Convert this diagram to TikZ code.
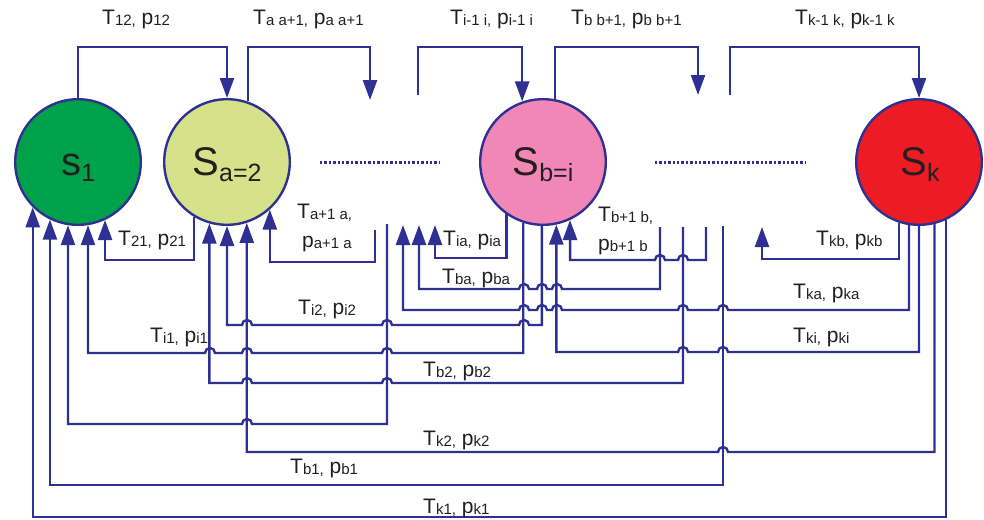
\documentclass[tikz,border=0pt]{standalone}
\usepackage{fontspec}
\setmainfont{Liberation Sans}
\usetikzlibrary{arrows.meta}
\definecolor{lb}{RGB}{46,49,146}
\definecolor{txt}{RGB}{35,31,32}
\definecolor{cgreen}{RGB}{0,161,75}
\definecolor{cyell}{RGB}{214,226,137}
\definecolor{cpink}{RGB}{241,135,183}
\definecolor{cred}{RGB}{237,28,36}
\newcommand\sbx[1]{\raisebox{-1pt}{\fontsize{15}{15}\selectfont #1}}
\newcommand\sbX[1]{\raisebox{-6pt}{\fontsize{25}{25}\selectfont #1}}
\newcommand\hopL[2]{-- ({#1+5},#2) arc[start angle=0,end angle=180,radius=5pt]}
\begin{document}
\begin{tikzpicture}[x=1pt,y=-1pt,
  st/.style={circle,draw=lb,line width=2.4pt,minimum size=125.6pt,inner sep=0pt},
  wire/.style={draw=lb,line width=2.4pt},
  arr/.style={wire,-{Triangle[length=20pt,width=14pt]}},
  lab/.style={anchor=base west,inner sep=0pt,text=txt,font=\fontsize{21}{21}\selectfont},
  big/.style={anchor=base,inner sep=0pt,text=txt,font=\fontsize{40}{40}\selectfont},
  dots/.style={draw=lb,line width=3pt,dash pattern=on 2.4pt off 2pt}]
\useasboundingbox (0,0) rectangle (984,519);
% states
\node[st,fill=cgreen] (s1) at (78,162) {};
\node[st,fill=cyell] (Sa) at (227,162) {};
\node[st,fill=cpink] (Sb) at (543,162) {};
\node[st,fill=cred] (Sk) at (919,162) {};
\node[big] (ls1) at (78,175) {s\sbX{1}};
\node[big] (lSa) at (227,175) {S\sbX{a=2}};
\node[big] (lSb) at (543,175) {S\sbX{b=i}};
\node[big] (lSk) at (920,175) {S\sbX{k}};
% free ends
\coordinate (fa1) at (370,100);
\coordinate (fi1) at (418,95);
\coordinate (fb1) at (698,95);
\coordinate (fk1) at (730,95);
\coordinate (fAa) at (375,230);
\coordinate (fX) at (387,224);
\coordinate (fTka) at (403,225);
\coordinate (fTba) at (419,225);
\coordinate (fTia) at (435,225);
\coordinate (fBa) at (660,227);
\coordinate (fB2) at (683,227);
\coordinate (fBb) at (706,227);
\coordinate (fB1) at (723,226);
\coordinate (fTkb) at (762,227);
% dotted
\coordinate (d1a) at (320,162); \coordinate (d1b) at (440,162);
\coordinate (d2a) at (655,162); \coordinate (d2b) at (805,162);
\draw[dots] (d1a) -- (d1b);
\draw[dots] (d2a) -- (d2b);
% top connectors
\draw[arr] (s1.90) |- (150,47) -| (Sa.90);
\draw[arr] (Sa.71.8) |- (300,47) -| (fa1);
\draw[arr] (fi1) |- (470,47) -| (Sb.109.2);
\draw[arr] (Sb.79.2) |- (620,47) -| (fb1);
\draw[arr] (fk1) |- (820,47) -| (Sk.90);
% bottom connectors
\draw[arr] (Sa.239) |- (150,260) -| (s1.295);
\draw[arr] (fAa) |- (320,262) -| (Sa.312.2);
\draw[arr] (Sb.269.1) |- (529,325) arc[start angle=0,end angle=180,radius=5pt] \hopL{387}{325} \hopL{247}{325} -| (Sa.270);
\draw[arr] (Sb.252.7) |- (392,353) arc[start angle=0,end angle=180,radius=5pt] \hopL{247}{353} \hopL{210}{353} -| (s1.279.9);
\draw[arr] (fB2) |- (392,383) arc[start angle=0,end angle=180,radius=5pt] \hopL{247}{383} -| (Sa.254.6);
\draw[arr] (fX) |- (252,424) arc[start angle=0,end angle=180,radius=5pt] -| (s1.261);
\draw[arr] (Sk.284.5) |- (728,452) arc[start angle=0,end angle=180,radius=5pt] -| (Sa.288.2);
\draw[arr] (fB1) |- (400,485) -| (s1.244.1);
\draw[arr] (Sk.295.9) |- (400,517) -| (s1.225.3);
\draw[arr] (Sb.235.8) |- (470,258) -| (fTia);
\draw[arr] (fBa) |- (562,289) arc[start angle=0,end angle=180,radius=5pt] \hopL{542}{289} \hopL{524}{289} -| (fTba);
\draw[arr] (Sk.261) |- (728,310) arc[start angle=0,end angle=180,radius=5pt] \hopL{683}{310} \hopL{557}{310} \hopL{542}{310} \hopL{524}{310} -| (fTka);
\draw[arr] (Sk.270.9) |- (728,352) arc[start angle=0,end angle=180,radius=5pt] \hopL{683}{352} -| (Sb.282.6);
\draw[arr] (fBb) |- (688,260) arc[start angle=0,end angle=180,radius=5pt] \hopL{660}{260} -| (Sb.295);
\draw[arr] (Sk.252.7) |- (800,259) -| (fTkb);
% labels
\node[lab] (t12) at (102,25) {T\sbx{12,} p\sbx{12}};
\node[lab] (taa) at (253,25) {T\sbx{a a+1,} p\sbx{a a+1}};
\node[lab] (tii) at (450,25) {T\sbx{i-1 i,} p\sbx{i-1 i}};
\node[lab] (tbb) at (571,25) {T\sbx{b b+1,} p\sbx{b b+1}};
\node[lab] (tkk) at (795,25) {T\sbx{k-1 k,} p\sbx{k-1 k}};
\node[lab] (t21) at (118,245) {T\sbx{21,} p\sbx{21}};
\node[lab] (ta1) at (297,218) {T\sbx{a+1 a,}};
\node[lab] (pa1) at (302,247) {p\sbx{a+1 a}};
\node[lab] (ti2) at (298,314) {T\sbx{i2,} p\sbx{i2}};
\node[lab] (ti1) at (150,342) {T\sbx{i1,} p\sbx{i1}};
\node[lab] (tia) at (443,245) {T\sbx{ia,} p\sbx{ia}};
\node[lab] (tba) at (442,283) {T\sbx{ba,} p\sbx{ba}};
\node[lab] (tb1b) at (598,221) {T\sbx{b+1 b,}};
\node[lab] (pb1b) at (598,250) {p\sbx{b+1 b}};
\node[lab] (tkb) at (816,245) {T\sbx{kb,} p\sbx{kb}};
\node[lab] (tka) at (793,298) {T\sbx{ka,} p\sbx{ka}};
\node[lab] (tki) at (793,342) {T\sbx{ki,} p\sbx{ki}};
\node[lab] (tb2) at (423,376) {T\sbx{b2,} p\sbx{b2}};
\node[lab] (tk2) at (423,445) {T\sbx{k2,} p\sbx{k2}};
\node[lab] (tb1) at (290,473) {T\sbx{b1,} p\sbx{b1}};
\node[lab] (tk1) at (423,513) {T\sbx{k1,} p\sbx{k1}};
\end{tikzpicture}
\end{document}
